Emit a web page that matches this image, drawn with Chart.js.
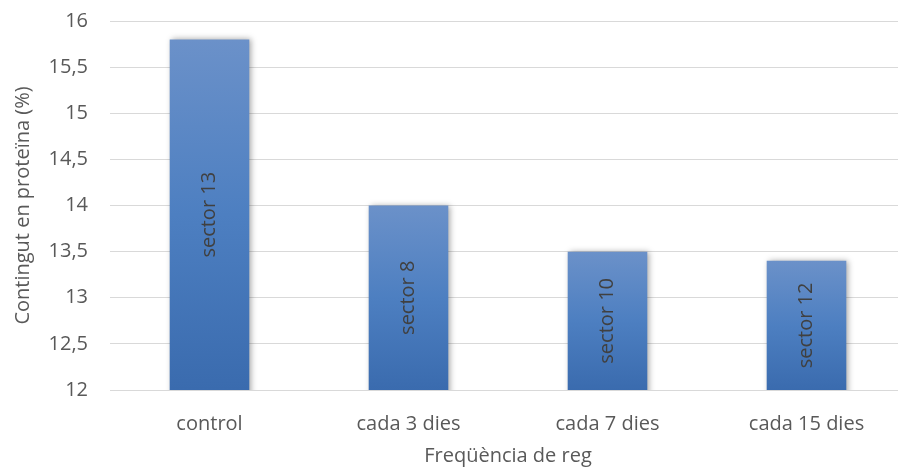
<!DOCTYPE html>
<html>
<head>
<meta charset="utf-8">
<script src="https://cdn.jsdelivr.net/npm/chart.js@4"></script>
<style>
  html, body { margin: 0; padding: 0; background: #fff; overflow: hidden; }
  #wrap { width: 906px; height: 468px; }
</style>
</head>
<body>
<div id="wrap"><canvas id="barChart"></canvas></div>
<script>
const categories = ['control', 'cada 3 dies', 'cada 7 dies', 'cada 15 dies'];
const proteina = [15.8, 14.0, 13.5, 13.4];
const sectors = ['sector 13', 'sector 8', 'sector 10', 'sector 12'];
const yTicks = [12, 12.5, 13, 13.5, 14, 14.5, 15, 15.5, 16];

const FONT = "'Open Sans', 'DejaVu Sans', sans-serif";
const FS = 20;
Chart.defaults.font.family = FONT;
Chart.defaults.color = '#595959';

// per-bar vertical gradient, lighter at the top
function barFill(ctx) {
  const chart = ctx.chart;
  if (!chart.chartArea || ctx.type !== 'data') return '#4a7cc0';
  const y = chart.scales.y;
  const top = y.getPixelForValue(ctx.raw);
  const bottom = y.getPixelForValue(yTicks[0]);
  const g = chart.ctx.createLinearGradient(0, top, 0, bottom);
  g.addColorStop(0, '#6b91c9');
  g.addColorStop(0.5, '#4d7fc1');
  g.addColorStop(1, '#3a6bae');
  return g;
}

const barExtras = {
  id: 'barExtras',
  beforeDatasetsDraw(chart) {
    const c = chart.ctx;
    c.save();
    c.shadowColor = 'rgba(0,0,0,0.35)';
    c.shadowBlur = 6;
    c.shadowOffsetX = 2;
    c.shadowOffsetY = 0;
  },
  afterDatasetsDraw(chart) {
    const c = chart.ctx;
    c.restore();
    // sector names, rotated, centred in each bar
    const bottom = chart.scales.y.getPixelForValue(yTicks[0]);
    const meta = chart.getDatasetMeta(0);
    c.save();
    c.font = FS + 'px ' + FONT;
    c.fillStyle = '#404040';
    c.textAlign = 'center';
    c.textBaseline = 'middle';
    meta.data.forEach((bar, i) => {
      c.save();
      c.translate(bar.x, (bar.y + bottom) / 2);
      c.rotate(-Math.PI / 2);
      c.fillText(sectors[i], 0, 0);
      c.restore();
    });
    c.restore();
  },
};

new Chart(document.getElementById('barChart'), {
  type: 'bar',
  data: {
    labels: categories,
    datasets: [
      {
        data: proteina,
        backgroundColor: barFill,
        borderWidth: 0,
        categoryPercentage: 1,
        barPercentage: 0.4,
      },
    ],
  },
  plugins: [barExtras],
  options: {
    responsive: true,
    maintainAspectRatio: false,
    animation: false,
    layout: {
      padding: { top: 21, left: 0, right: 0, bottom: 0 },
    },
    scales: {
      x: {
        grid: { display: false, drawTicks: false },
        border: { color: '#d9d9d9', width: 1 },
        ticks: { color: '#595959', font: { size: FS }, padding: 22 },
        title: {
          display: true,
          text: 'Freqüència de reg',
          color: '#595959',
          font: { size: FS },
          padding: { top: 2, bottom: 0 },
        },
        afterFit(scale) { scale.height = 78; },
      },
      y: {
        min: 12,
        max: 16,
        afterBuildTicks(scale) { scale.ticks = yTicks.map(v => ({ value: v })); },
        grid: { color: '#d9d9d9', lineWidth: 1, drawTicks: false },
        border: { display: false },
        ticks: {
          color: '#595959',
          font: { size: FS },
          padding: 22,
          callback: v => String(v).replace('.', ','),
        },
        title: {
          display: true,
          text: 'Contingut en proteïna (%)',
          color: '#595959',
          font: { size: FS },
          padding: { top: 11, bottom: 0 },
        },
        afterFit(scale) {
          scale.width = 110;
          scale.paddingTop = 0;
          scale.paddingBottom = 0;
        },
      },
    },
    plugins: {
      legend: { display: false },
      tooltip: { enabled: false },
    },
  },
});
</script>
</body>
</html>
